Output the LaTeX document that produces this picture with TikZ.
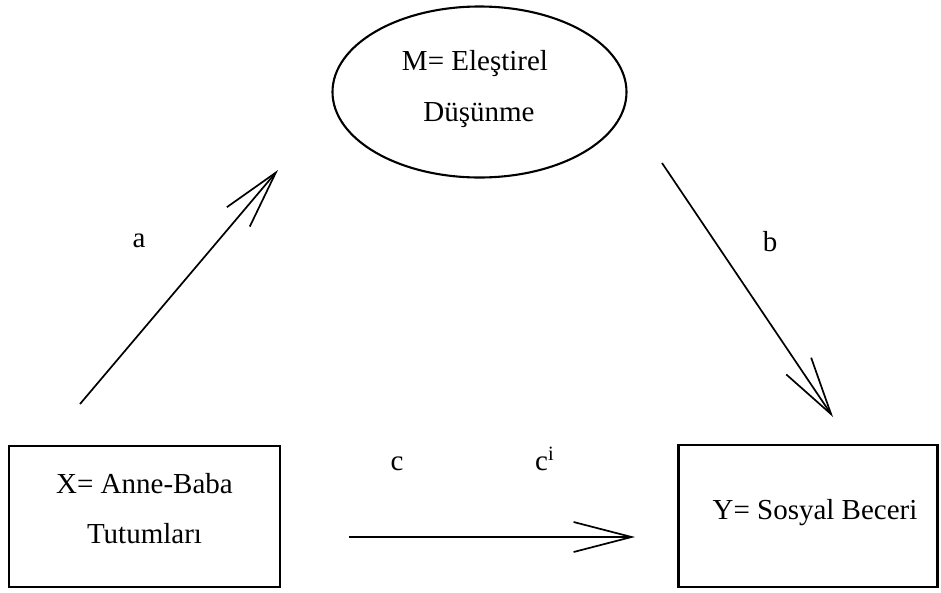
\documentclass[tikz,border=0pt]{standalone}
\usepackage{fontspec}
\setmainfont{Liberation Serif}
\usetikzlibrary{arrows.meta,shapes.geometric}
\begin{document}
\begin{tikzpicture}[x=1pt,y=-1pt,
  frame/.style={draw, line width=2.6pt, rectangle, inner sep=0pt},
  oval/.style={draw, line width=2.1pt, ellipse, inner sep=0pt, minimum width=294pt, minimum height=171pt},
  conn/.style={line width=1.7pt, -{Straight Barb[length=58pt,width=30pt,line width=1.7pt]}},
  txt/.style={font=\fontsize{29}{35}\selectfont, anchor=base, inner sep=0pt}]
\useasboundingbox (0,0) rectangle (941,592);
% nodes
\node[oval] (M) at (479.5,92) {};
\node[frame, minimum width=271pt, minimum height=141pt] (X) at (144.5,516.5) {};
\node[frame, minimum width=259pt, minimum height=142pt] (Y) at (808,516) {};
% texts
\node[txt] (m1) at (475,70) {M= Eleştirel};
\node[txt] (m2) at (479,121) {Düşünme};
\node[txt] (x1) at (144.5,493) {X= Anne-Baba};
\node[txt] (x2) at (144.5,543) {Tutumları};
\node[txt] (y1) at (815,519) {Y= Sosyal Beceri};
\node[txt] (la) at (139,247) {a};
\node[txt] (lb) at (770,251) {b};
\node[txt] (lc) at (397,470) {c};
\node[txt, anchor=base west] (lci) at (535,470) {c\textsuperscript{i}};
% connector ends
\coordinate (a0) at (80,404);
\coordinate (a1) at (278,170);
\coordinate (b0) at (662,163);
\coordinate (b1) at (833,417);
\coordinate (c0) at (349,537);
\coordinate (c1) at (635,537);
\draw[conn] (a0) -- (a1);
\draw[conn] (b0) -- (b1);
\draw[conn] (c0) -- (c1);
\end{tikzpicture}
\end{document}
